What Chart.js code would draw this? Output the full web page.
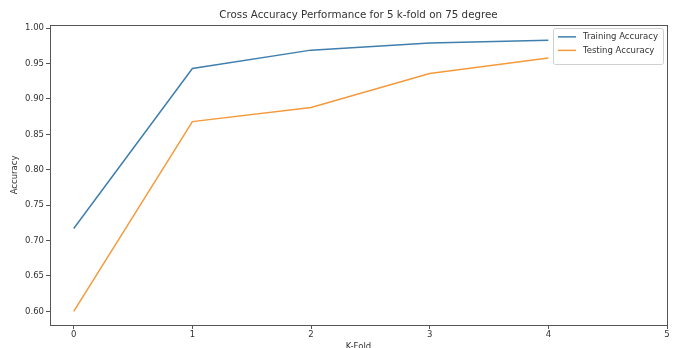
<!DOCTYPE html>
<html>
<head>
<meta charset="utf-8">
<script src="https://cdn.jsdelivr.net/npm/chart.js@4"></script>
<style>
  html, body { margin: 0; padding: 0; background: #ffffff; }
  #wrap { width: 675px; height: 348px; position: relative; }
</style>
</head>
<body>
<div id="wrap"><canvas id="c" width="675" height="348"></canvas></div>
<script>
// ---- data ----
const folds = [0, 1, 2, 3, 4];
const trainingAccuracy = [0.717, 0.943, 0.969, 0.979, 0.983];
const testingAccuracy = [0.600, 0.868, 0.888, 0.936, 0.958];
const xTickValues = [0, 1, 2, 3, 4, 5];
const yTickValues = [0.60, 0.65, 0.70, 0.75, 0.80, 0.85, 0.90, 0.95, 1.00];
const seriesNames = ['Training Accuracy', 'Testing Accuracy'];
const titleText = 'Cross Accuracy Performance for 5 k-fold on 75 degree';
const xAxisTitle = 'K-Fold';
const yAxisTitle = 'Accuracy';

const FONT = 'DejaVu Sans';
const AXIS_COLOR = '#555555';
const TEXT_COLOR = '#333333';
const COLORS = ['#3f7fae', '#f59a3c'];

function toPoints(xs, ys) { return xs.map((x, i) => ({ x: x, y: ys[i] })); }

const boxPlugin = {
  id: 'frameBox',
  afterDatasetsDraw(chart) {
    const { ctx, chartArea: a } = chart;
    ctx.save();
    ctx.strokeStyle = AXIS_COLOR;
    ctx.lineWidth = 1;
    ctx.strokeRect(Math.round(a.left) + 0.5, Math.round(a.top) + 0.5,
                   Math.round(a.right - a.left), Math.round(a.bottom - a.top));
    ctx.restore();
  }
};

const legendPlugin = {
  id: 'insideLegend',
  afterDraw(chart) {
    const { ctx, chartArea: a } = chart;
    const ds = chart.data.datasets;
    ctx.save();
    ctx.font = '8.5px "' + FONT + '"';
    let maxW = 0;
    ds.forEach(d => { maxW = Math.max(maxW, ctx.measureText(d.label).width); });
    const w = 5 + 18 + 7 + maxW + 5;
    const rowH = 13.5;
    const h = 6 + rowH * ds.length + 3;
    const x = a.right - 4 - w;
    const y = a.top + 3;
    ctx.fillStyle = 'rgba(255,255,255,0.85)';
    ctx.strokeStyle = '#d0d0d0';
    ctx.lineWidth = 1;
    ctx.beginPath();
    ctx.roundRect(Math.round(x) + 0.5, Math.round(y) + 0.5, Math.round(w), Math.round(h), 2);
    ctx.fill();
    ctx.stroke();
    ds.forEach((d, i) => {
      const cy = y + 9 + i * rowH;
      ctx.strokeStyle = d.borderColor;
      ctx.lineWidth = 1.5;
      ctx.beginPath();
      ctx.moveTo(x + 5, cy);
      ctx.lineTo(x + 23, cy);
      ctx.stroke();
      ctx.fillStyle = TEXT_COLOR;
      ctx.textBaseline = 'middle';
      ctx.textAlign = 'left';
      ctx.fillText(d.label, x + 30, cy);
    });
    ctx.restore();
  }
};

new Chart(document.getElementById('c'), {
  type: 'line',
  data: {
    datasets: [
      { label: seriesNames[0], data: toPoints(folds, trainingAccuracy), borderColor: COLORS[0], backgroundColor: COLORS[0], borderWidth: 1.5, pointRadius: 0, tension: 0, fill: false },
      { label: seriesNames[1], data: toPoints(folds, testingAccuracy), borderColor: COLORS[1], backgroundColor: COLORS[1], borderWidth: 1.5, pointRadius: 0, tension: 0, fill: false }
    ]
  },
  options: {
    responsive: false,
    animation: false,
    devicePixelRatio: 1,
    layout: { padding: { left: 0, top: 0, right: 8, bottom: 0 } },
    plugins: {
      legend: { display: false },
      tooltip: { enabled: false },
      title: {
        display: true,
        text: titleText,
        fullSize: false,
        color: TEXT_COLOR,
        font: { family: FONT, size: 10.3, weight: 'normal' },
        padding: { top: 9.5, bottom: 3 }
      }
    },
    scales: {
      x: {
        type: 'linear',
        min: -0.2,
        max: 5,
        afterBuildTicks: s => { s.ticks = xTickValues.map(v => ({ value: v })); },
        afterFit: s => { s.height = 23; },
        border: { display: false },
        grid: { drawOnChartArea: false, drawTicks: true, tickLength: 4, color: AXIS_COLOR },
        ticks: { color: TEXT_COLOR, font: { family: FONT, size: 8.5 }, padding: 1, maxRotation: 0,
                 callback: v => String(v) },
        title: { display: true, text: xAxisTitle, color: TEXT_COLOR, font: { family: FONT, size: 8.5 }, padding: { top: 0, bottom: -4 } }
      },
      y: {
        type: 'linear',
        min: 0.5807,
        max: 1.0047,
        afterBuildTicks: s => { s.ticks = yTickValues.map(v => ({ value: v })); },
        afterFit: s => { s.width = 50; },
        border: { display: false },
        grid: { drawOnChartArea: false, drawTicks: true, tickLength: 4, color: AXIS_COLOR },
        ticks: { color: TEXT_COLOR, font: { family: FONT, size: 8.5 }, padding: 2,
                 callback: v => Number(v).toFixed(2) },
        title: { display: true, text: yAxisTitle, color: TEXT_COLOR, font: { family: FONT, size: 8.5 }, padding: { top: 10, bottom: 0 } }
      }
    }
  },
  plugins: [boxPlugin, legendPlugin]
});
</script>
</body>
</html>
